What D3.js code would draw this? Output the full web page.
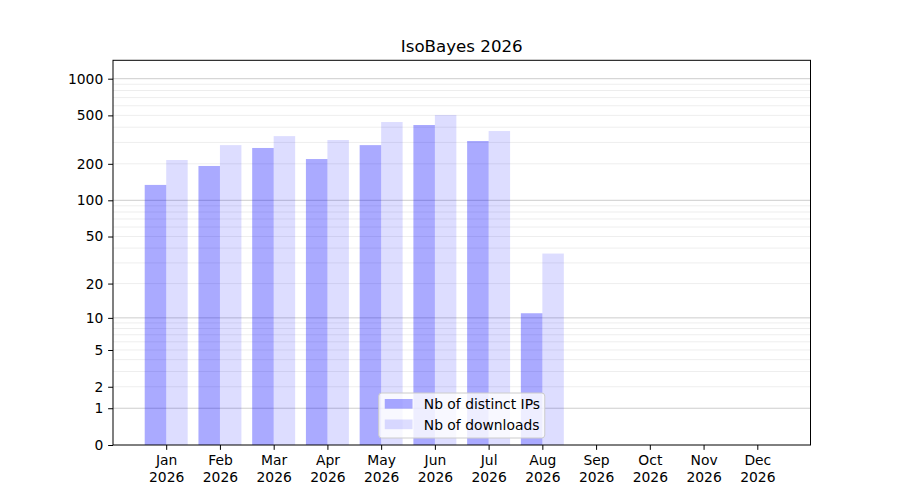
<!DOCTYPE html>
<html>
<head>
<meta charset="utf-8">
<script src="https://cdn.jsdelivr.net/npm/d3@7"></script>
<style>
  body { margin: 0; background: #fff; }
  svg { display: block; font-family: "DejaVu Sans", sans-serif; }
</style>
</head>
<body>
<script>
// Data
const months = ["Jan", "Feb", "Mar", "Apr", "May", "Jun", "Jul", "Aug", "Sep", "Oct", "Nov", "Dec"];
const year = "2026";
const distinctIPs = [134, 192, 270, 219, 285, 417, 308, 11, 0, 0, 0, 0];
const downloads = [215, 285, 338, 314, 441, 504, 372, 36, 0, 0, 0, 0];
const yTicks = [0, 1, 2, 5, 10, 20, 50, 100, 200, 500, 1000];
const majorGrid = [1, 10, 100, 1000];
const minorGrid = [2, 3, 4, 5, 6, 7, 8, 9, 20, 30, 40, 50, 60, 70, 80, 90,
                   200, 300, 400, 500, 600, 700, 800, 900];
const seriesNames = ["Nb of distinct IPs", "Nb of downloads"];

const W = 900, H = 500;
const plotL = 113, plotR = 810.5, plotT = 60.3, plotB = 445;
const fs = 13.89; // 10pt at 100 dpi

// log(1 + x) scale, same as the reference
const y = d3.scaleSymlog().constant(1)
    .domain([0, 1415])
    .range([plotB, plotT]);

const x = d3.scaleLinear()
    .domain([-0.99, 11.99])
    .range([plotL, plotR]);

const barW = 0.4;

const svg = d3.select("body").append("svg")
    .attr("width", W)
    .attr("height", H);

// grid
svg.append("g")
    .selectAll("line")
    .data(minorGrid)
    .join("line")
    .attr("x1", plotL).attr("x2", plotR)
    .attr("y1", d => y(d)).attr("y2", d => y(d))
    .attr("stroke", "#000").attr("stroke-opacity", 0.07).attr("stroke-width", 1);

svg.append("g")
    .selectAll("line")
    .data(majorGrid)
    .join("line")
    .attr("x1", plotL).attr("x2", plotR)
    .attr("y1", d => y(d)).attr("y2", d => y(d))
    .attr("stroke", "#000").attr("stroke-opacity", 0.2).attr("stroke-width", 1);

// bars
svg.append("g")
    .selectAll("rect")
    .data(distinctIPs)
    .join("rect")
    .attr("x", (d, i) => x(i - barW))
    .attr("width", x(barW) - x(0))
    .attr("y", d => y(d))
    .attr("height", d => y(0) - y(d))
    .attr("fill", "blue").attr("fill-opacity", 0.333);

svg.append("g")
    .selectAll("rect")
    .data(downloads)
    .join("rect")
    .attr("x", (d, i) => x(i))
    .attr("width", x(barW) - x(0))
    .attr("y", d => y(d))
    .attr("height", d => y(0) - y(d))
    .attr("fill", "blue").attr("fill-opacity", 0.134);

// axes
const yAxis = svg.append("g")
    .attr("transform", `translate(${plotL},0)`)
    .call(d3.axisLeft(y).tickValues(yTicks).tickFormat(d3.format("d"))
        .tickSizeInner(4.86).tickSizeOuter(0).tickPadding(4.86));

const xAxis = svg.append("g")
    .attr("transform", `translate(0,${plotB})`)
    .call(d3.axisBottom(x).tickValues(d3.range(12)).tickFormat(i => months[i])
        .tickSizeInner(4.86).tickSizeOuter(0).tickPadding(4.86));

xAxis.selectAll(".tick text").each(function (i) {
    const t = d3.select(this);
    t.text(null);
    t.append("tspan").attr("x", 0).attr("dy", "0.76em").text(months[i]);
    t.append("tspan").attr("x", 0).attr("dy", "1.17em").text(year);
});

[yAxis, xAxis].forEach(a => {
    a.select(".domain").remove();
    a.selectAll(".tick line").attr("stroke", "#000").attr("stroke-width", 1);
    a.selectAll(".tick text")
        .attr("fill", "#000")
        .style("font-size", fs + "px")
        .style("font-family", "'DejaVu Sans', sans-serif");
});
xAxis.selectAll(".tick text").attr("dy", null);

// frame
svg.append("rect")
    .attr("x", plotL).attr("y", plotT)
    .attr("width", plotR - plotL).attr("height", plotB - plotT)
    .attr("fill", "none").attr("stroke", "#000").attr("stroke-width", 1);

// title
svg.append("text")
    .attr("x", (plotL + plotR) / 2).attr("y", 52)
    .attr("text-anchor", "middle")
    .style("font-size", "16.67px")
    .text("IsoBayes 2026");

// legend, lower center
const lg = svg.append("g")
    .attr("transform", `translate(${(plotL + plotR) / 2 - 83},393)`);

lg.append("rect")
    .attr("width", 166).attr("height", 45)
    .attr("rx", 3)
    .attr("fill", "#fff").attr("fill-opacity", 0.8)
    .attr("stroke", "#ccc").attr("stroke-width", 1);

const entries = lg.selectAll("g.entry")
    .data(seriesNames)
    .join("g")
    .attr("class", "entry")
    .attr("transform", (d, i) => `translate(6,${6 + i * 20.5})`);

entries.append("rect")
    .attr("width", 27.8).attr("height", 9.7)
    .attr("fill", "blue")
    .attr("fill-opacity", (d, i) => i === 0 ? 0.333 : 0.134);

entries.append("text")
    .attr("x", 39).attr("y", 10)
    .style("font-size", fs + "px")
    .text(d => d);
</script>
</body>
</html>
